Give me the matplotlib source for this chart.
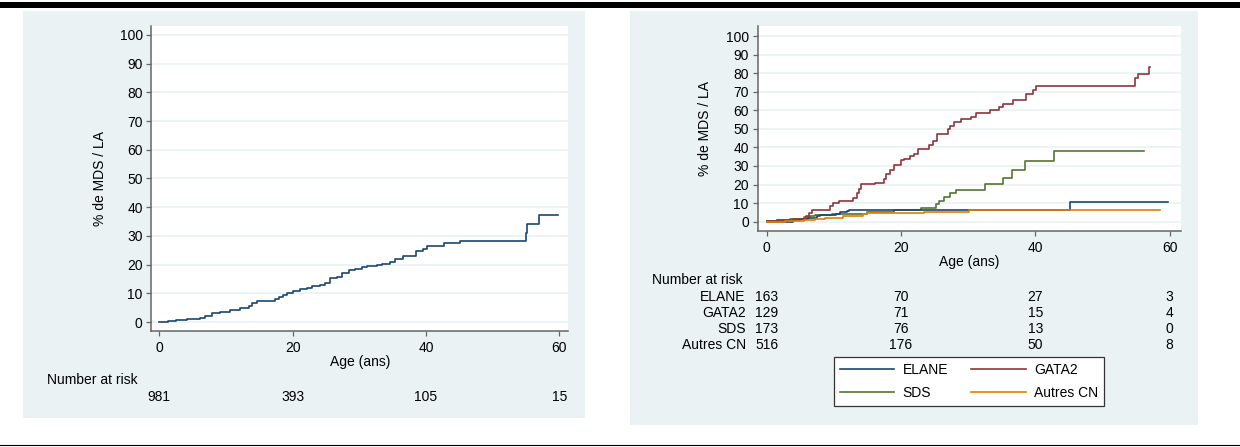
import matplotlib
matplotlib.use("Agg")
import matplotlib.pyplot as plt
from matplotlib.patches import Rectangle
from matplotlib.lines import Line2D
import matplotlib.transforms as mtransforms

plt.rcParams['font.family'] = ['Liberation Sans', 'DejaVu Sans']

# ---------------- data ----------------
# Left panel: all patients (age, cumulative % MDS/LA after step)
all_age = [0, 1.3, 2.5, 4.1, 6.1, 6.9, 7.85, 9.1, 10.6, 12.1, 13.4, 13.9, 14.6, 17.4, 17.9,
           18.6, 19.1, 20.1, 21.1, 22.1, 22.9, 24.1, 24.9, 25.6, 26.6, 27.4, 28.4, 29.4, 30.4,
           31.1, 32.6, 33.4, 34.6, 35.3, 36.6, 38.5, 39.6, 40.1, 42.7, 45.1, 55.0, 55.2, 56.9, 59.85]
all_val = [0, 0.3, 0.6, 1.2, 1.6, 2.2, 3.0, 3.4, 4.2, 4.9, 5.6, 6.5, 7.4, 7.9, 8.8,
           9.3, 10.0, 10.8, 11.4, 11.7, 12.5, 12.9, 13.7, 15.2, 15.8, 17.0, 18.1, 18.4, 19.1,
           19.6, 20.0, 20.4, 21.0, 22.0, 23.0, 24.8, 25.5, 26.5, 27.4, 28.3, 31.1, 34.0, 37.3, 37.3]

elane_age = [0, 4.0, 5.0, 6.2, 7.5, 8.0, 10.4, 10.9, 11.9, 12.2, 45.1, 59.8]
elane_val = [0, 1.0, 1.5, 2.2, 3.0, 3.6, 4.3, 5.0, 5.8, 6.3, 10.8, 10.8]

gata2_age = [0, 1.5, 4.0, 5.8, 6.3, 6.7, 9.4, 9.9, 10.8, 12.9, 13.4, 13.8, 14.1, 16.1, 17.5,
             17.8, 18.3, 19.0, 20.0, 20.5, 21.3, 22.0, 22.5, 24.2, 24.7, 25.3, 27.0, 27.3, 27.9,
             29.0, 30.4, 31.1, 33.2, 34.6, 35.2, 36.6, 38.6, 39.6, 40.1, 54.9, 55.3, 56.9, 57.0]
gata2_val = [0.5, 0.8, 1.6, 3.1, 4.7, 6.5, 8.4, 9.8, 11.3, 13.0, 15.5, 17.8, 20.1, 21.0, 23.0,
             25.6, 27.8, 30.3, 33.2, 34.0, 35.3, 36.5, 39.3, 41.3, 43.6, 47.2, 49.8, 51.8, 53.9,
             55.2, 56.6, 58.5, 60.2, 61.9, 63.6, 65.5, 69.0, 71.0, 73.1, 77.2, 79.8, 83.5, 83.5]

sds_age = [0, 1.5, 3.5, 5.5, 6.5, 7.2, 9.8, 14.9, 19.0, 23.0, 25.2, 25.6, 26.4, 27.3, 28.2,
           32.5, 35.2, 36.5, 38.4, 42.8, 56.2]
sds_val = [0.5, 1.0, 1.4, 2.3, 2.8, 3.7, 4.0, 5.0, 6.3, 7.6, 9.5, 11.3, 13.3, 15.2, 17.2,
           20.3, 23.6, 27.8, 32.9, 38.2, 38.2]

autres_age = [0, 2.8, 5.5, 7.2, 8.7, 11.4, 12.9, 14.4, 15.0, 15.9, 19.8, 23.5, 30.1, 58.5]
autres_val = [0, 0.5, 1.0, 1.7, 2.2, 2.8, 3.3, 4.0, 4.5, 4.7, 4.9, 5.4, 6.3, 6.3]

risk_times = [0, 20, 40, 60]
risk_all = [981, 393, 105, 15]
group_names = ["ELANE", "GATA2", "SDS", "Autres CN"]
risk_groups = [[163, 70, 27, 3], [129, 71, 15, 4], [173, 76, 13, 0], [516, 176, 50, 8]]

y_ticks = list(range(0, 101, 10))
x_ticks = [0, 20, 40, 60]

colors = {"ELANE": "#1A476F", "GATA2": "#90353B", "SDS": "#55752F", "Autres CN": "#E37E00"}
BG = "#EAF2F3"
AXC = "#666666"

# ---------------- figure ----------------
W, H = 1240, 447
fig = plt.figure(figsize=(W / 100, H / 100), dpi=100)
fig.patch.set_facecolor("white")


def fx(x):
    return x / W


def fy(y):
    return 1 - y / H


# page decorations
fig.add_artist(Rectangle((0, fy(7.5)), 1, fy(2.5) - fy(7.5), transform=fig.transFigure,
                         facecolor="black", edgecolor="none"))
fig.add_artist(Line2D([0, 1], [fy(445), fy(445)], transform=fig.transFigure, color="black", lw=0.8))

# panel backgrounds
fig.add_artist(Rectangle((fx(23), fy(418)), fx(585) - fx(23), fy(11) - fy(418),
                         transform=fig.transFigure, facecolor=BG, edgecolor="none", zorder=0))
fig.add_artist(Rectangle((fx(630), fy(425)), fx(1198) - fx(630), fy(11) - fy(425),
                         transform=fig.transFigure, facecolor=BG, edgecolor="none", zorder=0))

FS = 10


def make_axes(x0, x1, y0, y1, xlim, ylim):
    ax = fig.add_axes([fx(x0), fy(y1), fx(x1) - fx(x0), fy(y0) - fy(y1)])
    ax.set_facecolor("white")
    ax.set_xlim(*xlim)
    ax.set_ylim(*ylim)
    ax.set_yticks(y_ticks)
    ax.set_xticks(x_ticks)
    for s in ("top", "right"):
        ax.spines[s].set_visible(False)
    for s in ("left", "bottom"):
        ax.spines[s].set_color(AXC)
        ax.spines[s].set_linewidth(1.1)
    ax.tick_params(axis="both", direction="out", length=3.8, width=0.9, color=AXC,
                   labelsize=FS, pad=2.5)
    ax.tick_params(axis="x", pad=3.5)
    ax.grid(axis="y", color=BG, lw=1.2)
    ax.set_axisbelow(True)
    return ax


def stepline(ax, xs, ys, color, label=None):
    ax.step(xs, ys, where="post", color=color, lw=1.2, label=label, zorder=3)


# ---------------- left panel ----------------
axL = make_axes(151.4, 568.4, 26, 331, (-1.19, 61.37), (-3.1, 103.1))
stepline(axL, all_age, all_val, colors["ELANE"])
fig.text(fx(100), fy(178.5), "% de MDS / LA", rotation=90, ha="center", va="center", fontsize=FS)
fig.text(fx(360), fy(362), "Age (ans)", ha="center", va="center", fontsize=FS)
fig.text(fx(46.6), fy(380), "Number at risk", ha="left", va="center", fontsize=FS)
trL = mtransforms.blended_transform_factory(axL.transData, fig.transFigure)
for t, n in zip(risk_times, risk_all):
    axL.text(t, fy(397), str(n), transform=trL, ha="center", va="center", fontsize=FS)

# ---------------- right panel ----------------
axR = make_axes(757.5, 1180.5, 26, 230.7, (-1.35, 61.6), (-4.85, 105.4))
series = {"ELANE": (elane_age, elane_val), "GATA2": (gata2_age, gata2_val),
          "SDS": (sds_age, sds_val), "Autres CN": (autres_age, autres_val)}
for name in ["SDS", "ELANE", "GATA2", "Autres CN"]:
    xs, ys = series[name]
    stepline(axR, xs, ys, colors[name], label=name)
fig.text(fx(705), fy(128), "% de MDS / LA", rotation=90, ha="center", va="center", fontsize=FS)
fig.text(fx(969), fy(262), "Age (ans)", ha="center", va="center", fontsize=FS)
fig.text(fx(652.4), fy(280), "Number at risk", ha="left", va="center", fontsize=FS)
trR = mtransforms.blended_transform_factory(axR.transData, fig.transFigure)
row_y = [297, 313, 329, 345]
for name, counts, yy in zip(group_names, risk_groups, row_y):
    fig.text(fx(745.7), fy(yy), name, ha="right", va="center", fontsize=FS)
    for t, n in zip(risk_times, counts):
        axR.text(t, fy(yy), str(n), transform=trR, ha="center", va="center", fontsize=FS)

# legend
order = ["ELANE", "SDS", "GATA2", "Autres CN"]
handles = [Line2D([], [], color=colors[n], lw=1.2) for n in order]
leg = fig.legend(handles, order, ncol=2, loc="center", bbox_to_anchor=(fx(969), fy(381.5)),
                 bbox_transform=fig.transFigure, fontsize=FS, frameon=True, fancybox=False,
                 edgecolor="#333333", facecolor="white", framealpha=1, handlelength=3.9,
                 handletextpad=0.6, columnspacing=1.7, labelspacing=0.6, borderpad=0.45,
                 borderaxespad=0)
leg.get_frame().set_linewidth(0.9)

fig.savefig("out.png", dpi=100, facecolor="white")
